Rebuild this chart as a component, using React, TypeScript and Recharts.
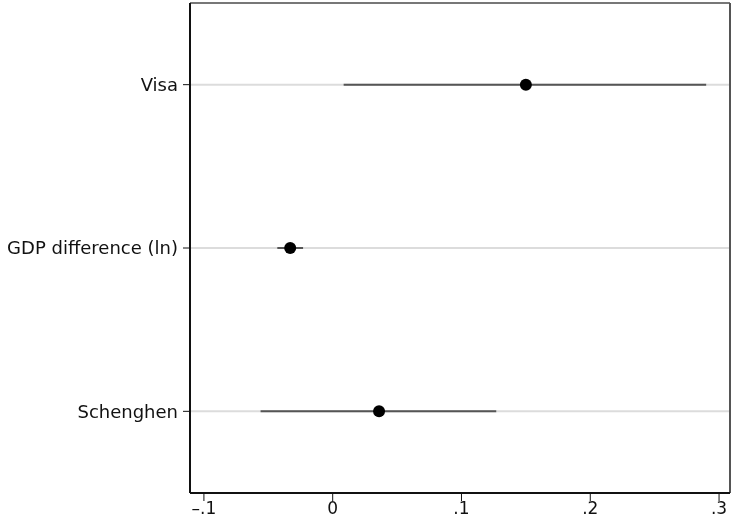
import type { FC } from "react";
import {
  CartesianGrid,
  ErrorBar,
  Scatter,
  ScatterChart,
  XAxis,
  YAxis,
} from "recharts";

// coefficient plot: point estimate + confidence interval
const variables = ["Visa", "GDP difference (ln)", "Schenghen"];
const estimates = [0.15, -0.033, 0.036];
const ciLow = [0.0085, -0.043, -0.056];
const ciHigh = [0.29, -0.023, 0.127];
const xTicks = [-0.1, 0, 0.1, 0.2, 0.3];

const data = variables.map((name, i) => ({
  name,
  est: estimates[i],
  err: [estimates[i] - ciLow[i], ciHigh[i] - estimates[i]],
}));

const FONT = "'DejaVu Sans', sans-serif";

// Stata-style tick labels: -.1, 0, .1 ...
const fmt = (v: number) => {
  if (v === 0) return "0";
  const s = Math.abs(v).toFixed(1).replace(/^0/, "");
  return v < 0 ? "–" + s : s;
};

const Dot = (props: any) => (
  <circle cx={props.cx} cy={props.cy} r={6} fill="#000" />
);

const App: FC = () => (
  <div style={{ position: "fixed", left: 0, top: 0 }}>
    <ScatterChart
      width={732}
      height={522}
      margin={{ top: 0, right: 0, bottom: 0, left: 0 }}
      style={{ fontFamily: FONT }}
    >
      <CartesianGrid horizontal vertical={false} stroke="#dcdcdc" strokeWidth={2} />
      <XAxis
        xAxisId="top"
        orientation="top"
        type="number"
        dataKey="est"
        domain={[-0.1108, 0.3085]}
        height={3}
        tick={false}
        tickLine={false}
        axisLine={{ stroke: "#777", strokeWidth: 2 }}
      />
      <YAxis
        yAxisId="right"
        orientation="right"
        type="category"
        dataKey="name"
        reversed
        width={2}
        tick={false}
        tickLine={false}
        axisLine={{ stroke: "#555", strokeWidth: 2 }}
      />
      <XAxis
        type="number"
        dataKey="est"
        domain={[-0.1108, 0.3085]}
        ticks={xTicks}
        tickFormatter={fmt}
        height={29}
        tickSize={8}
        tickMargin={1}
        allowDataOverflow
        axisLine={{ stroke: "#111", strokeWidth: 2 }}
        tickLine={{ stroke: "#111" }}
        tick={{ fill: "#111", fontSize: 17 }}
      />
      <YAxis
        type="category"
        dataKey="name"
        reversed
        width={190}
        tickSize={7}
        tickMargin={5}
        axisLine={{ stroke: "#111", strokeWidth: 2 }}
        tickLine={{ stroke: "#111" }}
        tick={{ fill: "#111", fontSize: 18 }}
      />
      <Scatter data={data} shape={Dot} isAnimationActive={false}>
        <ErrorBar
          dataKey="err"
          direction="x"
          width={0}
          stroke="#555"
          strokeWidth={2}
          isAnimationActive={false}
        />
      </Scatter>
    </ScatterChart>
  </div>
);

export default App;
